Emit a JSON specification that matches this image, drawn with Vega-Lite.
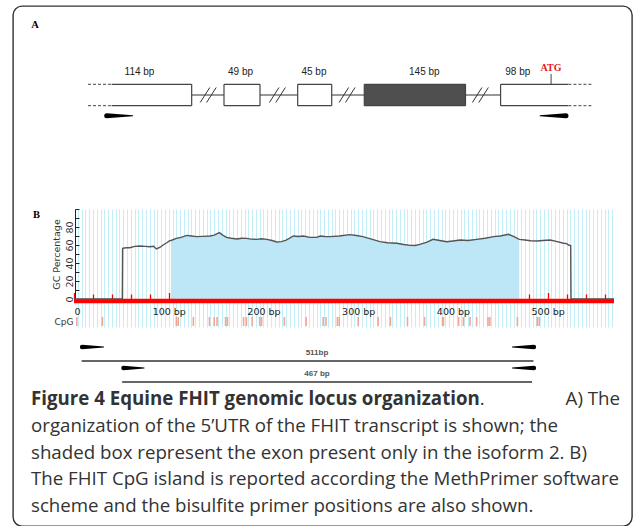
{
  "$schema": "https://vega.github.io/schema/vega-lite/v6.json",
  "width": 619,
  "height": 520,
  "autosize": {"type": "none"},
  "padding": {"left": 13, "top": 6, "right": 1, "bottom": 0},
  "background": "white",
  "config": {
    "view": {"stroke": "#333", "strokeWidth": 1.4, "cornerRadius": 9},
    "axis": {"labelFont": "DejaVu Sans", "titleFont": "DejaVu Sans"}
  },
  "datasets": {
    "gc": [
      {"bp": 0, "gc": 0}, {"bp": 51, "gc": 0}, {"bp": 51.3, "gc": 56.3}, {"bp": 55, "gc": 57}, {"bp": 59, "gc": 57},
      {"bp": 64, "gc": 58.5}, {"bp": 70, "gc": 58.9}, {"bp": 75, "gc": 58.5}, {"bp": 80, "gc": 58}, {"bp": 84, "gc": 58.5},
      {"bp": 87, "gc": 55.6}, {"bp": 91, "gc": 57.5}, {"bp": 94, "gc": 60}, {"bp": 98, "gc": 62.5}, {"bp": 101, "gc": 64.8},
      {"bp": 102.4, "gc": 65}, {"bp": 108, "gc": 67.4}, {"bp": 113, "gc": 68.5}, {"bp": 119, "gc": 70.7}, {"bp": 124, "gc": 70},
      {"bp": 129.5, "gc": 69.3}, {"bp": 136, "gc": 69.6}, {"bp": 143.6, "gc": 70}, {"bp": 148, "gc": 71}, {"bp": 153.5, "gc": 73.7},
      {"bp": 157, "gc": 71}, {"bp": 161, "gc": 68.5}, {"bp": 166, "gc": 67.5}, {"bp": 172, "gc": 66.7}, {"bp": 177, "gc": 67.5},
      {"bp": 182, "gc": 67.4}, {"bp": 187, "gc": 66.5}, {"bp": 193, "gc": 66.3}, {"bp": 198, "gc": 67}, {"bp": 203.5, "gc": 66.3},
      {"bp": 209, "gc": 65}, {"bp": 214, "gc": 63.3}, {"bp": 219, "gc": 63.8}, {"bp": 224, "gc": 65.5}, {"bp": 231.6, "gc": 70},
      {"bp": 237, "gc": 69.5}, {"bp": 242, "gc": 70}, {"bp": 249, "gc": 68.5}, {"bp": 256, "gc": 68.5}, {"bp": 260, "gc": 70},
      {"bp": 265, "gc": 69.5}, {"bp": 270, "gc": 69.3}, {"bp": 280, "gc": 70}, {"bp": 291, "gc": 71.5}, {"bp": 298, "gc": 70.5},
      {"bp": 305, "gc": 69.3}, {"bp": 314, "gc": 66.5}, {"bp": 323, "gc": 63.7}, {"bp": 331, "gc": 62.5}, {"bp": 340.7, "gc": 61.9},
      {"bp": 348, "gc": 60.5}, {"bp": 355, "gc": 59.6}, {"bp": 360, "gc": 59.5}, {"bp": 365, "gc": 60.7}, {"bp": 372, "gc": 63},
      {"bp": 379, "gc": 66.3}, {"bp": 386, "gc": 65}, {"bp": 393.5, "gc": 63.7}, {"bp": 400, "gc": 64.5}, {"bp": 407.6, "gc": 65.6},
      {"bp": 416, "gc": 65}, {"bp": 425, "gc": 66.3}, {"bp": 434, "gc": 67.5}, {"bp": 442.8, "gc": 69.3}, {"bp": 450, "gc": 70},
      {"bp": 458.6, "gc": 71.9}, {"bp": 465, "gc": 69}, {"bp": 470, "gc": 66.3}, {"bp": 476, "gc": 65.5}, {"bp": 482, "gc": 64.8},
      {"bp": 488.6, "gc": 64.4}, {"bp": 495, "gc": 65}, {"bp": 502.6, "gc": 65.6}, {"bp": 509, "gc": 64}, {"bp": 516.7, "gc": 61.9},
      {"bp": 520, "gc": 61.5}, {"bp": 522, "gc": 60}, {"bp": 524.3, "gc": 59.5}, {"bp": 524.6, "gc": 0}, {"bp": 570, "gc": 0}
    ],
    "cpg": [
      {"bp": 3}, {"bp": 30}, {"bp": 108}, {"bp": 110}, {"bp": 126}, {"bp": 143}, {"bp": 148}, {"bp": 151}, {"bp": 160}, {"bp": 162},
      {"bp": 179}, {"bp": 182}, {"bp": 188}, {"bp": 196}, {"bp": 198}, {"bp": 222}, {"bp": 245}, {"bp": 263}, {"bp": 266}, {"bp": 278},
      {"bp": 280}, {"bp": 300}, {"bp": 321}, {"bp": 334}, {"bp": 352}, {"bp": 370}, {"bp": 389}, {"bp": 390}, {"bp": 406}, {"bp": 411},
      {"bp": 418}, {"bp": 425}, {"bp": 437}, {"bp": 439}, {"bp": 468}, {"bp": 489}, {"bp": 491}
    ],
    "exons": [
      {"exon": 1, "start": 4.69, "end": 20.53, "label": "114 bp", "lx": 10.2, "isoform2": false, "open": "left"},
      {"exon": 2, "start": 26.93, "end": 34.06, "label": "49 bp", "lx": 30.2, "isoform2": false, "open": "none"},
      {"exon": 3, "start": 41.52, "end": 48.26, "label": "45 bp", "lx": 44.75, "isoform2": false, "open": "none"},
      {"exon": 4, "start": 54.71, "end": 74.75, "label": "145 bp", "lx": 66.6, "isoform2": true, "open": "none"},
      {"exon": 5, "start": 81.7, "end": 95.13, "label": "98 bp", "lx": 85.1, "isoform2": false, "open": "right"}
    ],
    "introns": [
      {"start": 20.53, "end": 26.93, "breakAt": 23.8},
      {"start": 34.06, "end": 41.52, "breakAt": 37.5},
      {"start": 48.26, "end": 54.71, "breakAt": 51.3},
      {"start": 74.75, "end": 81.7, "breakAt": 77.7}
    ],
    "flanks": [{"start": 0, "end": 4.69}, {"start": 95.13, "end": 100}],
    "primersA": [
      {"primer": "F", "pos": 3.7, "end": "5'"}, {"primer": "F", "pos": 8.85, "end": "3'"},
      {"primer": "R", "pos": 94.65, "end": "5'"}, {"primer": "R", "pos": 89.5, "end": "3'"}
    ],
    "primersB": [
      {"primer": "F1", "lane": 1, "bp": 9, "end": "5'"}, {"primer": "F1", "lane": 1, "bp": 33, "end": "3'"},
      {"primer": "R1", "lane": 1, "bp": 511, "end": "5'"}, {"primer": "R1", "lane": 1, "bp": 487, "end": "3'"},
      {"primer": "F2", "lane": 2, "bp": 55, "end": "5'"}, {"primer": "F2", "lane": 2, "bp": 78, "end": "3'"},
      {"primer": "R2", "lane": 2, "bp": 511, "end": "5'"}, {"primer": "R2", "lane": 2, "bp": 487, "end": "3'"}
    ],
    "products": [
      {"lane": 1, "label": "511bp", "start": 8.5, "end": 510.5, "mid": 270},
      {"lane": 2, "label": "467 bp", "start": 53.5, "end": 509, "mid": 270}
    ]
  },
  "layer": [
    {
      "layer": [
        {
          "data": {"name": "flanks"},
          "mark": {"type": "rule", "strokeDash": [3, 2], "color": "#444", "strokeWidth": 1},
          "encoding": {
            "x": {"field": "start", "type": "quantitative", "scale": {"domain": [0, 100], "range": [75, 580]}, "axis": null},
            "x2": {"field": "end"},
            "y": {"datum": 1, "type": "quantitative", "scale": {"domain": [0, 1], "range": [99.7, 78.3]}, "axis": null}
          }
        },
        {
          "data": {"name": "flanks"},
          "mark": {"type": "rule", "strokeDash": [3, 2], "color": "#444", "strokeWidth": 1},
          "encoding": {
            "x": {"field": "start", "type": "quantitative", "axis": null},
            "x2": {"field": "end"},
            "y": {"datum": 0, "type": "quantitative", "axis": null}
          }
        },
        {
          "data": {"name": "introns"},
          "mark": {"type": "rule", "color": "#333", "strokeWidth": 1},
          "encoding": {
            "x": {"field": "start", "type": "quantitative", "axis": null},
            "x2": {"field": "end"},
            "y": {"datum": 0.5, "type": "quantitative", "axis": null}
          }
        },
        {
          "data": {"name": "introns"},
          "mark": {"type": "point", "shape": "M-1,0.94L0.2,-0.94M-0.2,0.94L1,-0.94", "size": 256, "filled": false, "stroke": "#333", "strokeWidth": 1, "opacity": 1},
          "encoding": {
            "x": {"field": "breakAt", "type": "quantitative", "axis": null},
            "y": {"datum": 0.5, "type": "quantitative", "axis": null}
          }
        },
        {
          "data": {"name": "exons"},
          "mark": {"type": "rect", "strokeWidth": 0},
          "encoding": {
            "x": {"field": "start", "type": "quantitative", "axis": null},
            "x2": {"field": "end"},
            "y": {"datum": 0, "type": "quantitative", "axis": null},
            "y2": {"datum": 1},
            "fill": {"condition": {"test": "datum.isoform2", "value": "#4f4f4f"}, "value": "white"}
          }
        },
        {
          "data": {"name": "exons"},
          "mark": {"type": "rule", "color": "#444", "strokeWidth": 1.2},
          "encoding": {
            "x": {"field": "start", "type": "quantitative", "axis": null},
            "x2": {"field": "end"},
            "y": {"datum": 1, "type": "quantitative", "axis": null}
          }
        },
        {
          "data": {"name": "exons"},
          "mark": {"type": "rule", "color": "#444", "strokeWidth": 1.2},
          "encoding": {
            "x": {"field": "start", "type": "quantitative", "axis": null},
            "x2": {"field": "end"},
            "y": {"datum": 0, "type": "quantitative", "axis": null}
          }
        },
        {
          "data": {"name": "exons"},
          "transform": [{"filter": "datum.open !== 'left'"}],
          "mark": {"type": "rule", "color": "#444", "strokeWidth": 1.2},
          "encoding": {
            "x": {"field": "start", "type": "quantitative", "axis": null},
            "y": {"datum": 0, "type": "quantitative", "axis": null},
            "y2": {"datum": 1}
          }
        },
        {
          "data": {"name": "exons"},
          "transform": [{"filter": "datum.open !== 'right'"}],
          "mark": {"type": "rule", "color": "#444", "strokeWidth": 1.2},
          "encoding": {
            "x": {"field": "end", "type": "quantitative", "axis": null},
            "y": {"datum": 0, "type": "quantitative", "axis": null},
            "y2": {"datum": 1}
          }
        },
        {
          "data": {"name": "exons"},
          "mark": {"type": "text", "font": "Liberation Sans", "fontSize": 10, "color": "#222"},
          "encoding": {
            "x": {"field": "lx", "type": "quantitative", "axis": null},
            "y": {"datum": 1.59, "type": "quantitative", "axis": null},
            "text": {"field": "label"}
          }
        },
        {
          "data": {"values": [{"pos": 91.7, "codon": "ATG"}]},
          "mark": {"type": "rule", "color": "#444", "strokeWidth": 1},
          "encoding": {
            "x": {"field": "pos", "type": "quantitative", "axis": null},
            "y": {"datum": 1, "type": "quantitative", "axis": null},
            "y2": {"datum": 1.48}
          }
        },
        {
          "data": {"values": [{"pos": 91.7, "codon": "ATG"}]},
          "mark": {"type": "text", "font": "Liberation Serif", "fontWeight": "bold", "fontSize": 10, "color": "#e8151b"},
          "encoding": {
            "x": {"field": "pos", "type": "quantitative", "axis": null},
            "y": {"datum": 1.76, "type": "quantitative", "axis": null},
            "text": {"field": "codon"}
          }
        },
        {
          "data": {"name": "primersA"},
          "mark": {"type": "trail", "color": "#000"},
          "encoding": {
            "x": {"field": "pos", "type": "quantitative", "axis": null},
            "y": {"datum": -0.47, "type": "quantitative", "axis": null},
            "detail": {"field": "primer"},
            "size": {"condition": {"test": "datum.end === \"5'\"", "value": 5}, "value": 0.8}
          }
        },
        {
          "data": {"values": [{"panel": "A"}]},
          "mark": {"type": "text", "font": "Liberation Serif", "fontWeight": "bold", "fontSize": 10.5, "color": "#000"},
          "encoding": {
            "x": {"datum": -10.5, "type": "quantitative", "axis": null},
            "y": {"datum": 3.77, "type": "quantitative", "axis": null},
            "text": {"field": "panel"}
          }
        }
      ]
    },
    {
      "layer": [
        {
          "data": {"name": "gc"},
          "transform": [{"filter": "datum.bp >= 102.4 && datum.bp <= 470"}],
          "mark": {"type": "area", "color": "#bde7f6", "opacity": 1},
          "encoding": {
            "x": {"field": "bp", "type": "quantitative", "scale": {"domain": [0, 570], "range": [61, 601]},
              "axis": {"orient": "top", "grid": true, "domain": false, "ticks": false, "labels": false, "title": null, "gridColor": "#c4eff8", "gridWidth": 1, "gridOpacity": 1,
                "values": [4,8,12,16,20,24,28,32,36,40,44,48,52,56,60,64,68,72,76,80,84,88,92,96,100,104,108,112,116,120,124,128,132,136,140,144,148,152,156,160,164,168,172,176,180,184,188,192,196,200,204,208,212,216,220,224,228,232,236,240,244,248,252,256,260,264,268,272,276,280,284,288,292,296,300,304,308,312,316,320,324,328,332,336,340,344,348,352,356,360,364,368,372,376,380,384,388,392,396,400,404,408,412,416,420,424,428,432,436,440,444,448,452,456,460,464,468,472,476,480,484,488,492,496,500,504,508,512,516,520,524,528,532,536,540,544,548,552,556,560,564,568]}},
            "y": {"field": "gc", "type": "quantitative", "scale": {"domain": [-31.1, 100], "range": [321, 203]}, "axis": null},
            "y2": {"datum": 0}
          }
        }
      ]
    },
    {
      "layer": [
        {
          "data": {"values": [{"start": 0, "end": 570}]},
          "mark": {"type": "rule", "color": "#ff0000", "strokeWidth": 4.5, "yOffset": 2},
          "encoding": {
            "x": {"field": "start", "type": "quantitative", "scale": {"domain": [0, 570], "range": [61, 601]},
              "axis": {"orient": "top", "offset": -293, "labels": false, "domain": false, "grid": false, "title": null,
                "tickColor": "#ff0000", "tickWidth": 1.3,
                "tickSize": {"condition": {"test": "datum.value % 100 === 0", "value": 6.5}, "value": 5},
                "values": [0,20,40,60,80,100,120,140,160,180,200,220,240,260,280,300,320,340,360,380,400,420,440,460,480,500,520,540,560]}},
            "x2": {"field": "end"},
            "y": {"datum": 0, "type": "quantitative", "scale": {"domain": [0, 100], "range": [293, 203]}, "axis": null}
          }
        }
      ]
    },
    {
      "layer": [
        {
          "data": {"name": "gc"},
          "mark": {"type": "line", "color": "#555", "strokeWidth": 1.4},
          "encoding": {
            "x": {"field": "bp", "type": "quantitative", "scale": {"domain": [0, 570], "range": [61, 601]},
              "axis": {"orient": "bottom", "offset": -227, "values": [0, 100, 200, 300, 400, 500],
                "labelExpr": "datum.value === 0 ? '0' : datum.value + ' bp'", "labelFlush": true,
                "ticks": false, "domain": false, "grid": false, "title": null, "labelPadding": 7,
                "labelFontSize": 9.5, "labelColor": "#222"}},
            "y": {"field": "gc", "type": "quantitative", "scale": {"domain": [0, 100], "range": [293, 203]},
              "axis": {"orient": "left", "offset": -62, "values": [0,10,20,30,40,50,60,70,80,90,100],
                "labelExpr": "datum.value % 20 === 0 && datum.value < 100 ? datum.label : ''",
                "tickSize": -4, "labelPadding": 5, "labelAngle": -90, "labelAlign": "center", "labelBaseline": "bottom",
                "domainColor": "#222", "tickColor": "#222", "grid": false,
                "title": "GC Percentage", "titleFontSize": 9.5, "titleFontWeight": "normal", "titleColor": "#333", "titlePadding": 3,
                "labelFontSize": 9.5, "labelColor": "#333"}}
          }
        }
      ]
    },
    {
      "layer": [
        {
          "data": {"values": [{"panel": "B"}]},
          "mark": {"type": "text", "font": "Liberation Serif", "fontWeight": "bold", "fontSize": 10.5, "color": "#000"},
          "encoding": {
            "x": {"datum": -39.6, "type": "quantitative", "scale": {"domain": [0, 570], "range": [61, 601]}, "axis": null},
            "y": {"datum": 93.3, "type": "quantitative", "scale": {"domain": [0, 100], "range": [293, 203]}, "axis": null},
            "text": {"field": "panel"}
          }
        }
      ]
    },
    {
      "layer": [
        {
          "data": {"name": "cpg"},
          "mark": {"type": "tick", "color": "#f7a593", "thickness": 1.6, "size": 9, "opacity": 1},
          "encoding": {
            "x": {"field": "bp", "type": "quantitative", "scale": {"domain": [0, 570], "range": [61, 601]}, "axis": null},
            "y": {"datum": "CpG", "type": "nominal",
              "scale": {"type": "band", "domain": ["CpG"], "range": [311, 320], "paddingInner": 0, "paddingOuter": 0},
              "axis": {"orient": "left", "offset": -62, "ticks": false, "domain": false, "labelPadding": 2, "title": null,
                "labelFontSize": 9, "labelColor": "#333", "grid": false}}
          }
        }
      ]
    },
    {
      "layer": [
        {
          "data": {"name": "primersB"},
          "mark": {"type": "trail", "color": "#000"},
          "encoding": {
            "x": {"field": "bp", "type": "quantitative", "scale": {"domain": [0, 570], "range": [61, 601]}, "axis": null},
            "y": {"field": "lane", "type": "quantitative", "scale": {"domain": [1, 2], "range": [341, 362]}, "axis": null},
            "detail": {"field": "primer"},
            "size": {"condition": {"test": "datum.end === \"5'\"", "value": 4.5}, "value": 0.8}
          }
        },
        {
          "data": {"name": "products"},
          "mark": {"type": "rule", "color": "#333", "strokeWidth": 1.3, "yOffset": 14},
          "encoding": {
            "x": {"field": "start", "type": "quantitative", "axis": null},
            "x2": {"field": "end"},
            "y": {"field": "lane", "type": "quantitative", "axis": null}
          }
        },
        {
          "data": {"name": "products"},
          "mark": {"type": "text", "font": "Liberation Sans", "fontWeight": "bold", "fontSize": 8, "color": "#555", "yOffset": 6},
          "encoding": {
            "x": {"field": "mid", "type": "quantitative", "axis": null},
            "y": {"field": "lane", "type": "quantitative", "axis": null},
            "text": {"field": "label"}
          }
        }
      ]
    },
    {
      "layer": [
        {
          "data": {"values": [{"line": 1, "pos": 0, "text": "Figure 4 Equine FHIT genomic locus organization"}]},
          "mark": {"type": "text", "align": "left", "font": "Open Sans", "fontWeight": "bold", "fontSize": 18.7, "color": "#333"},
          "encoding": {
            "x": {"field": "pos", "type": "quantitative", "scale": {"domain": [0, 1], "range": [18, 607]}, "axis": null},
            "y": {"field": "line", "type": "quantitative", "scale": {"domain": [1, 5], "range": [393, 500]}, "axis": null},
            "text": {"field": "text"}
          }
        },
        {
          "data": {"values": [
            {"line": 1, "pos": 0.762, "text": "."},
            {"line": 2, "pos": 0, "text": "organization of the 5’UTR of the FHIT transcript is shown; the"},
            {"line": 3, "pos": 0, "text": "shaded box represent the exon present only in the isoform 2. B)"},
            {"line": 4, "pos": 0, "text": "The FHIT CpG island is reported according the MethPrimer software"},
            {"line": 5, "pos": 0, "text": "scheme and the bisulfite primer positions are also shown."}
          ]},
          "mark": {"type": "text", "align": "left", "font": "Open Sans", "fontSize": 18.7, "color": "#333"},
          "encoding": {
            "x": {"field": "pos", "type": "quantitative", "axis": null},
            "y": {"field": "line", "type": "quantitative", "axis": null},
            "text": {"field": "text"}
          }
        },
        {
          "data": {"values": [{"line": 1, "pos": 1, "text": "A) The"}]},
          "mark": {"type": "text", "align": "right", "font": "Open Sans", "fontSize": 18.7, "color": "#333"},
          "encoding": {
            "x": {"field": "pos", "type": "quantitative", "axis": null},
            "y": {"field": "line", "type": "quantitative", "axis": null},
            "text": {"field": "text"}
          }
        }
      ]
    }
  ],
  "resolve": {"scale": {"x": "independent", "y": "independent"}}
}
